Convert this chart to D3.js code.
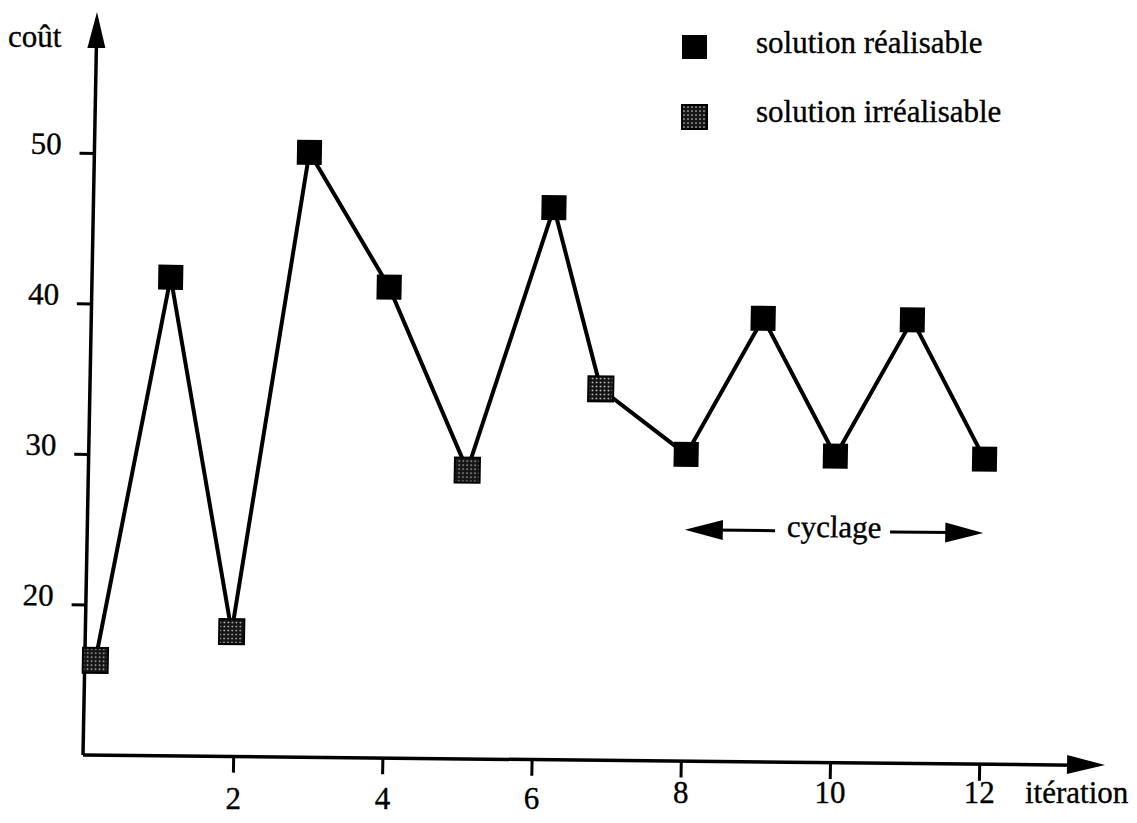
<!DOCTYPE html>
<html>
<head>
<meta charset="utf-8">
<script src="https://cdn.jsdelivr.net/npm/d3@7"></script>
<style>
	body { margin: 0; background: #fff; }
	text { font-family: "Liberation Serif", "Times New Roman", serif; font-size: 31px; fill: #000; stroke: #000; stroke-width: 0.35px; }
</style>
</head>
<body>
<svg id="chart" width="1137" height="823"></svg>
<script>
// iteration / cost of each visited solution
const iterations = [0.13, 1.05, 1.95, 2.88, 3.98, 5.07, 6.17, 6.84, 8, 9, 10, 11, 12];
const costs = [16.3, 41.8, 18.3, 50.2, 41.3, 29.2, 46.7, 34.7, 30.4, 39.5, 30.4, 39.5, 30.3];
const feasible = [false, true, false, true, true, false, true, false, true, true, true, true, true];

const xTicks = [2, 4, 6, 8, 10, 12];
const yTicks = [20, 30, 40, 50];

const legendLabels = ['solution réalisable', 'solution irréalisable'];
const cycleSpan = [8, 12];
const cycleLevel = 25.4;
const cycleLabel = 'cyclage';

const svg = d3.select('#chart');

const x = d3.scaleLinear().domain([0, 12]).range([0, 895.2]);
const y = d3.scaleLinear().domain([10, 50]).range([0, -602]);

const xAxisLen = 1021;
const yAxisLen = 743;

const defs = svg.append('defs');
const stipple = defs.append('pattern')
	.attr('id', 'stipple')
	.attr('width', 4)
	.attr('height', 4)
	.attr('patternUnits', 'userSpaceOnUse');
stipple.append('rect').attr('width', 4).attr('height', 4).attr('fill', '#151515');
stipple.append('circle').attr('cx', 2).attr('cy', 2).attr('r', 0.85).attr('fill', '#c8c8c8');

// the scan is slightly skewed, so the plot frame is too
const plot = svg.append('g').attr('transform', 'matrix(1,0.0108,-0.0175,1,84,755)');

// axes lines + arrowheads
plot.append('line')
	.attr('x1', -1).attr('y1', 0)
	.attr('x2', 0).attr('y2', -yAxisLen + 30)
	.attr('stroke', '#000').attr('stroke-width', 3.5);
plot.append('path')
	.attr('d', `M0,${-yAxisLen} L9,${-yAxisLen + 36} L-9,${-yAxisLen + 36} Z`)
	.attr('fill', '#000');

plot.append('line')
	.attr('x1', -1).attr('y1', 0)
	.attr('x2', xAxisLen - 30).attr('y2', -0.5)
	.attr('stroke', '#000').attr('stroke-width', 3.5);
plot.append('path')
	.attr('d', `M${xAxisLen},-1 L${xAxisLen - 38},-10.5 L${xAxisLen - 38},8.5 Z`)
	.attr('fill', '#000');

// y ticks with labels
const yAxis = plot.append('g')
	.call(d3.axisLeft(y).tickValues(yTicks).tickSize(15).tickPadding(18));
yAxis.attr('font-family', null).attr('font-size', null);
yAxis.select('.domain').remove();
yAxis.selectAll('.tick line').attr('stroke', '#000').attr('stroke-width', 3);
yAxis.selectAll('.tick text')
	.attr('dy', 1);

// x ticks (labels sit on a level line below)
const xAxis = plot.append('g')
	.call(d3.axisBottom(x).tickValues(xTicks).tickSize(16).tickFormat(''));
xAxis.select('.domain').remove();
xAxis.selectAll('.tick line').attr('stroke', '#000').attr('stroke-width', 3);

const xLabels = svg.append('g').attr('transform', 'translate(84,0)');
xLabels.selectAll('text')
	.data(xTicks)
	.enter()
	.append('text')
	.attr('x', d => x(d))
	.attr('y', d => d <= 6 ? 809 : 803)
	.attr('text-anchor', 'middle')
	.text(d => d);

svg.append('text').attr('x', 1025).attr('y', 803).text('itération');
svg.append('text').attr('x', 8).attr('y', 47).text('coût');

// path of the search
const line = d3.line()
	.x((d, i) => x(iterations[i]))
	.y(d => y(d));
plot.append('path')
	.datum(costs)
	.attr('d', line)
	.attr('fill', 'none')
	.attr('stroke', '#000')
	.attr('stroke-width', 4)
	.attr('stroke-linejoin', 'miter');

const size = 25;
plot.selectAll('.pt')
	.data(costs)
	.enter()
	.append('rect')
	.attr('class', 'pt')
	.attr('x', (d, i) => x(iterations[i]) - size / 2)
	.attr('y', d => y(d) - size / 2)
	.attr('width', size)
	.attr('height', size)
	.attr('fill', (d, i) => feasible[i] ? '#000' : 'url(#stipple)')
	.attr('stroke', '#000')
	.attr('stroke-width', (d, i) => feasible[i] ? 0 : 2);

// cycling annotation
const cy = y(cycleLevel);
const cx0 = x(cycleSpan[0]);
const cx1 = x(cycleSpan[1]);
const cmid = (cx0 + cx1) / 2;
plot.append('line')
	.attr('x1', cx0 + 30).attr('y1', cy)
	.attr('x2', cmid - 59).attr('y2', cy)
	.attr('stroke', '#000').attr('stroke-width', 3);
plot.append('line')
	.attr('x1', cmid + 56).attr('y1', cy)
	.attr('x2', cx1 - 30).attr('y2', cy)
	.attr('stroke', '#000').attr('stroke-width', 3);
plot.append('path')
	.attr('d', `M${cx0},${cy} L${cx0 + 38},${cy - 10} L${cx0 + 38},${cy + 10} Z`)
	.attr('fill', '#000');
plot.append('path')
	.attr('d', `M${cx1},${cy} L${cx1 - 38},${cy - 10} L${cx1 - 38},${cy + 10} Z`)
	.attr('fill', '#000');
plot.append('text')
	.attr('x', cmid)
	.attr('y', cy + 6)
	.attr('text-anchor', 'middle')
	.text(cycleLabel);

// legend
const legend = svg.append('g');
const legendRows = legend.selectAll('g')
	.data(legendLabels)
	.enter()
	.append('g')
	.attr('transform', (d, i) => `translate(682,${35 + i * 70})`);
legendRows.append('rect')
	.attr('width', 25)
	.attr('height', 24)
	.attr('fill', (d, i) => i === 0 ? '#000' : 'url(#stipple)')
	.attr('stroke', '#000')
	.attr('stroke-width', (d, i) => i === 0 ? 0 : 2);
legendRows.append('text')
	.attr('x', 74)
	.attr('y', (d, i) => i === 0 ? 18 : 17)
	.text(d => d);
</script>
</body>
</html>
